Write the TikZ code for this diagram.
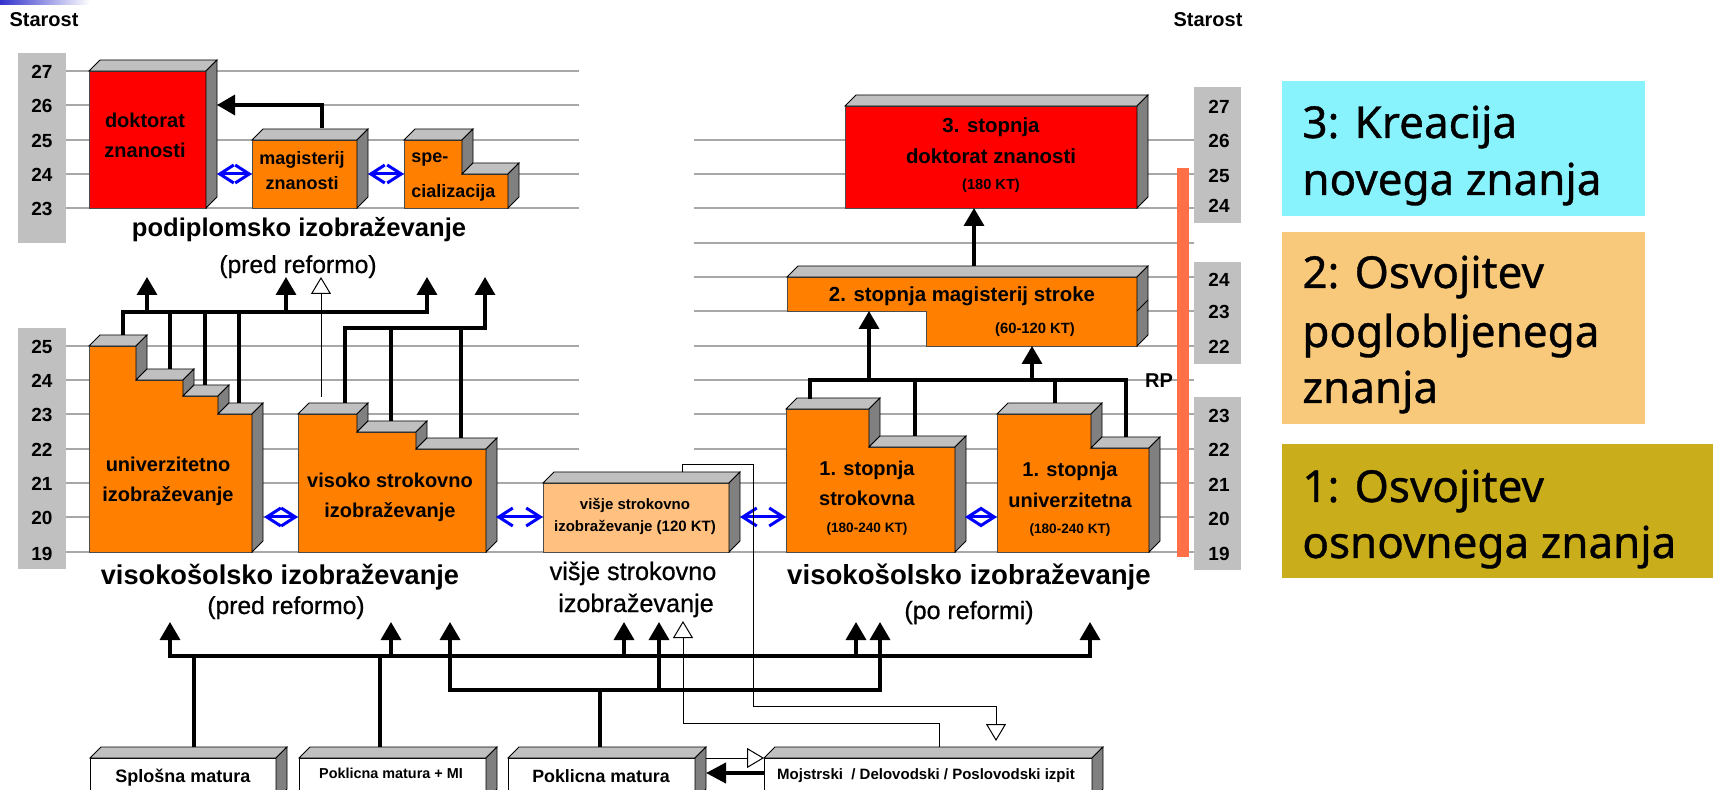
\documentclass[tikz,border=0pt]{standalone}
\usepackage{fontspec}
\setmainfont{Liberation Sans}
\newfontfamily\legfont{Noto Sans}[FakeBold=0.8]
\newfontfamily\medfont{Liberation Sans}[FakeBold=0.7]
\usetikzlibrary{arrows.meta}
\definecolor{orng}{HTML}{FF8000}
\definecolor{redc}{HTML}{FF0000}
\definecolor{lorng}{HTML}{FFC080}
\definecolor{topg}{HTML}{C0C0C0}
\definecolor{sideg}{HTML}{808080}
\definecolor{scaleg}{HTML}{C0C0C0}
\definecolor{gridg}{HTML}{A8A8A8}
\definecolor{rpc}{HTML}{FF7048}
\definecolor{legc}{HTML}{89F3FD}
\definecolor{lego}{HTML}{F8C97A}
\definecolor{legy}{HTML}{C9AD1B}
\definecolor{gradb}{HTML}{3333CC}
\definecolor{arrb}{HTML}{0000FF}
\newcommand\lbl[6][]{\node[anchor=base,inner sep=0pt,font=\bfseries,#1] (#2) at (#3,#4) {\fontsize{#5}{#5}\selectfont #6};}
\def\dd{11}
\newcommand\topface[3]{\filldraw[topf] (#1,#3) -- ++(\dd,-\dd) -- ({#2+\dd},{#3-\dd}) -- (#2,#3) -- cycle;}
\newcommand\rside[3]{\filldraw[sidef] (#1,#2) -- ++(\dd,-\dd) -- ({#1+\dd},{#3-\dd}) -- (#1,#3) -- cycle;}
\tikzset{
  topf/.style={fill=topg,draw=black,line width=0.4pt},
  sidef/.style={fill=sideg,draw=black,line width=0.4pt},
  frontf/.style={draw=black!70,line width=0.35pt},
  gline/.style={draw=gridg,line width=0.6pt},
  conn/.style={draw=black,line width=1.7pt},
  arr/.style={conn,-{Triangle[length=9pt,width=10pt]}},
  arrtwo/.style={conn,{Triangle[length=9pt,width=10pt]}-{Triangle[length=9pt,width=10pt]}},
  thinl/.style={draw=black,line width=0.5pt},
  warr/.style={thinl,-{Triangle[length=8.5pt,width=10pt,fill=white]}},
  barr/.style={draw=arrb,line width=1.5pt,{Straight Barb[length=7pt,width=9pt]}-{Straight Barb[length=7pt,width=9pt]}},
  scl/.style={fill=scaleg},
  legtext/.style={anchor=base west,inner sep=0pt,font=\legfont\fontsize{22}{22}\selectfont}
}
\begin{document}
\begin{tikzpicture}[x=0.5pt,y=-0.5pt]
\useasboundingbox (0,0) rectangle (1713,790);
\clip (0,0) rectangle (1713,790);
\fill[white] (0,0) rectangle (1713,790);
\shade[left color=gradb,right color=white] (0,0) rectangle (90,5);

% grid lines
\foreach \y in {71,105,140,174,208,346,380,414,449} \draw[gline] (66,\y) -- (579,\y);
\foreach \y in {483,517,552} \draw[gline] (66,\y) -- (1194,\y);
\foreach \y in {140,174,208,243,277,311,346,380,414,449} \draw[gline] (694,\y) -- (1194,\y);

% age scales
\fill[scl] (18,53) rectangle (66,243);
\fill[scl] (18,328) rectangle (66,569);
\fill[scl] (1194,87) rectangle (1241,223);
\fill[scl] (1194,262) rectangle (1241,364);
\fill[scl] (1194,397) rectangle (1241,570);
\fill[rpc] (1177,168) rectangle (1189,557);

% legend
\fill[legc] (1282,81) rectangle (1645,216);
\fill[lego] (1282,232) rectangle (1645,424);
\fill[legy] (1282,444) rectangle (1713,578);
\node[legtext] (lg1) at (1302,138) {3: Kreacija};
\node[legtext] (lg2) at (1302,195) {novega znanja};
\node[legtext] (lg3) at (1302,288) {2: Osvojitev};
\node[legtext] (lg4) at (1302,347) {poglobljenega};
\node[legtext] (lg5) at (1302,403) {znanja};
\node[legtext] (lg6) at (1302,502) {1: Osvojitev};
\node[legtext] (lg7) at (1302,558) {osnovnega znanja};

% boxes: doktorat
\filldraw[frontf,fill=redc] (89,71) rectangle (206,208);
\topface{89}{206}{71}\rside{206}{71}{208}
% magisterij
\filldraw[frontf,fill=orng] (252,140) rectangle (357,208);
\topface{252}{357}{140}\rside{357}{140}{208}
% specializacija
\filldraw[frontf,fill=orng] (404,208) -- (404,140) -- (462,140) -- (462,174) -- (508,174) -- (508,208) -- cycle;
\topface{404}{462}{140}\rside{462}{140}{174}\topface{462}{508}{174}\rside{508}{174}{208}
% univerzitetno
\filldraw[frontf,fill=orng] (89,552) -- (89,346) -- (136,346) -- (136,380) -- (183,380) -- (183,396) -- (218,396) -- (218,414) -- (252,414) -- (252,552) -- cycle;
\topface{89}{136}{346}\rside{136}{346}{380}\topface{136}{183}{380}\rside{183}{380}{396}
\topface{183}{218}{396}\rside{218}{396}{414}\topface{218}{252}{414}\rside{252}{414}{552}
% visoko strokovno
\filldraw[frontf,fill=orng] (298,552) -- (298,414) -- (357,414) -- (357,432) -- (416,432) -- (416,449) -- (486,449) -- (486,552) -- cycle;
\topface{298}{357}{414}\rside{357}{414}{432}\topface{357}{416}{432}\rside{416}{432}{449}
\topface{416}{486}{449}\rside{486}{449}{552}
% visje
\filldraw[frontf,fill=lorng] (543,483) rectangle (729,552);
\topface{543}{729}{483}\rside{729}{483}{552}
% 3. stopnja
\filldraw[frontf,fill=redc] (845,106) rectangle (1137,208);
\topface{845}{1137}{106}\rside{1137}{106}{208}
% 2. stopnja
\filldraw[frontf,fill=orng] (787,277) -- (1137,277) -- (1137,346) -- (926,346) -- (926,311) -- (787,311) -- cycle;
\topface{787}{1137}{277}\rside{1137}{277}{346}
\draw[line width=0.4pt] (1137,311) -- ++(\dd,-\dd);
% 1. stopnja strokovna
\filldraw[frontf,fill=orng] (786,552) -- (786,409) -- (869,409) -- (869,447) -- (955,447) -- (955,552) -- cycle;
\topface{786}{869}{409}\rside{869}{409}{447}\topface{869}{955}{447}\rside{955}{447}{552}
% 1. stopnja univerzitetna
\filldraw[frontf,fill=orng] (997,552) -- (997,414) -- (1091,414) -- (1091,448) -- (1149,448) -- (1149,552) -- cycle;
\topface{997}{1091}{414}\rside{1091}{414}{448}\topface{1091}{1149}{448}\rside{1149}{448}{552}
% bottom boxes
\filldraw[draw=black,line width=0.5pt,fill=white] (90,758) rectangle (276,800);
\topface{90}{276}{758}\rside{276}{758}{800}
\filldraw[draw=black,line width=0.5pt,fill=white] (299,758) rectangle (486,800);
\topface{299}{486}{758}\rside{486}{758}{800}
\filldraw[draw=black,line width=0.5pt,fill=white] (508,758) rectangle (695,800);
\topface{508}{695}{758}\rside{695}{758}{800}
\filldraw[draw=black,line width=0.5pt,fill=white] (764,758) rectangle (1092,800);
\topface{764}{1092}{758}\rside{1092}{758}{800}

% connectors top-left
\coordinate (magT) at (322,128);
\coordinate (dokR) at (217,105);
\draw[arr] (magT) |- (dokR);
\coordinate (b1a) at (217,174); \coordinate (b1b) at (252,174);
\coordinate (b2a) at (368,174); \coordinate (b2b) at (404,174);
\coordinate (b3a) at (264,517); \coordinate (b3b) at (298,517);
\coordinate (b4a) at (496,517); \coordinate (b4b) at (543,517);
\coordinate (b5a) at (740,517); \coordinate (b5b) at (786,517);
\coordinate (b6a) at (965,517); \coordinate (b6b) at (997,517);
\draw[barr] (b1a) -- (b1b);
\draw[barr] (b2a) -- (b2b);
\draw[barr] (b3a) -- (b3b);
\draw[barr] (b4a) -- (b4b);
\draw[barr] (b5a) -- (b5b);
\draw[barr] (b6a) -- (b6b);

% bracket 1
\coordinate (u1) at (123,335); \coordinate (u2) at (170,369);
\coordinate (u3) at (205,385); \coordinate (u4) at (239,403);
\coordinate (k1) at (0,312);
\coordinate (pA) at (147,277); \coordinate (pB) at (286,277); \coordinate (pC) at (427,277);
\draw[arr] (u1) |- (pC |- k1) -- (pC);
\draw[conn] (u2) -- (u2 |- k1);
\draw[conn] (u3) -- (u3 |- k1);
\draw[conn] (u4) -- (u4 |- k1);
\draw[arr] (pA |- k1) -- (pA);
\draw[arr] (pB |- k1) -- (pB);
% bracket 2
\coordinate (v1) at (345,403); \coordinate (v2) at (391,421); \coordinate (v3) at (461,438);
\coordinate (k2) at (0,328); \coordinate (pD) at (485,277);
\draw[arr] (v1) |- (pD |- k2) -- (pD);
\draw[conn] (v2) -- (v2 |- k2);
\draw[conn] (v3) -- (v3 |- k2);
\coordinate (vsW) at (321,397); \coordinate (pW) at (321,277);
\draw[warr] (vsW) -- (pW);

% right side
\coordinate (s2T) at (974,266); \coordinate (s3B) at (974,208);
\draw[arr] (s2T) -- (s3B);
\coordinate (r1) at (810,399); \coordinate (r2) at (915,436);
\coordinate (r3) at (1055,403); \coordinate (r4) at (1126,437);
\coordinate (k3) at (0,380);
\draw[conn] (r1) |- (r4 |- k3) -- (r4);
\draw[conn] (r2) -- (r2 |- k3);
\draw[conn] (r3) -- (r3 |- k3);
\coordinate (s2a) at (869,311); \coordinate (s2b) at (1032,346);
\draw[arr] (s2a |- k3) -- (s2a);
\draw[arr] (s2b |- k3) -- (s2b);

% bottom buses
\coordinate (q1) at (170,622); \coordinate (q2) at (391,622); \coordinate (q3) at (624,622);
\coordinate (q4) at (856,622); \coordinate (q5) at (1090,622);
\coordinate (q6) at (450,622); \coordinate (q7) at (659,622); \coordinate (q8) at (880,622);
\coordinate (k4) at (0,656); \coordinate (k5) at (0,690);
\draw[arrtwo] (q1) -- (q1 |- k4) -- (q5 |- k4) -- (q5);
\draw[arr] (q2 |- k4) -- (q2);
\draw[arr] (q3 |- k4) -- (q3);
\draw[arr] (q4 |- k4) -- (q4);
\draw[arrtwo] (q6) -- (q6 |- k5) -- (q8 |- k5) -- (q8);
\draw[arr] (q7 |- k5) -- (q7);
\coordinate (splT) at (194,747); \coordinate (pmiT) at (380,747); \coordinate (pmT) at (600,747);
\draw[conn] (splT) -- (splT |- k4);
\draw[conn] (pmiT) -- (pmiT |- k4);
\draw[conn] (pmT) -- (pmT |- k5);

% thin connectors
\coordinate (vjT) at (682,472); \coordinate (mojW) at (996,741);
\draw[warr] (vjT) -- (682,465) -- (753,465) -- (753,706) -- (996,706) -- (mojW);
\coordinate (mojT) at (939,747); \coordinate (vlW) at (683,621);
\draw[warr] (mojT) -- (939,723) -- (683,723) -- (vlW);
\coordinate (pmR) at (706,758); \coordinate (mojL) at (764,758);
\draw[warr] (pmR) -- (mojL);
\coordinate (mojL2) at (764,773); \coordinate (pmR2) at (706,773);
\draw[draw=black,line width=2pt,-{Triangle[length=10pt,width=10pt]}] (mojL2) -- (pmR2);

% texts
\lbl{st1}{44}{27}{10}{Starost}
\lbl{st2}{1208}{27}{10}{Starost}
\foreach \n/\y in {27/71,26/105,25/140,24/174,23/208} {\lbl{lt\n}{42}{\y+8}{9.5}{\n}}
\foreach \n/\y in {25/346,24/380,23/414,22/449,21/483,20/517,19/552} {\lbl{lb\n}{42}{\y+8}{9.5}{\n}}
\foreach \n/\y in {27/107,26/141,25/176,24/206} {\lbl{rt\n}{1219}{\y+7}{9.5}{\n}}
\foreach \n/\y in {24/280,23/312,22/347} {\lbl{rm\n}{1219}{\y+7}{9.5}{\n}}
\foreach \n/\y in {23/416,22/450,21/485,20/519,19/553} {\lbl{rb\n}{1219}{\y+7}{9.5}{\n}}

\lbl{tdok1}{145}{128}{10}{doktorat}
\lbl{tdok2}{145}{158}{10}{znanosti}
\lbl{tmag1}{302}{165}{9}{magisterij}
\lbl{tmag2}{302}{190}{9}{znanosti}
\lbl[anchor=base west]{tspe1}{411}{163}{9}{spe-}
\lbl[anchor=base west]{tspe2}{411}{198}{9}{cializacija}
\lbl{tpod1}{299}{237}{12.8}{podiplomsko izobraževanje}
\lbl[font=\medfont]{tpod2}{298}{273}{12.3}{(pred reformo)}
\lbl{tuni1}{168}{472}{10}{univerzitetno}
\lbl{tuni2}{168}{502}{10}{izobraževanje}
\lbl{tvs1}{390}{488}{10}{visoko strokovno}
\lbl{tvs2}{390}{518}{10}{izobraževanje}
\lbl{tvj1}{635}{510}{7.5}{višje strokovno}
\lbl{tvj2}{635}{532}{7.5}{izobraževanje (120 KT)}
\lbl{tvis1}{280}{585}{13.6}{visokošolsko izobraževanje}
\lbl[font=\medfont]{tvis2}{286}{614}{12.3}{(pred reformo)}
\lbl[font=\medfont]{tvss1}{633}{580}{12.6}{višje strokovno}
\lbl[font=\medfont]{tvss2}{636}{612}{12.6}{izobraževanje}
\lbl{tvr1}{969}{585}{13.8}{visokošolsko izobraževanje}
\lbl[font=\medfont]{tvr2}{969}{619}{12.5}{(po reformi)}
\lbl{ts3a}{991}{133}{10.2}{3. stopnja}
\lbl{ts3b}{991}{164}{10.2}{doktorat znanosti}
\lbl{ts3c}{991}{190}{7.3}{(180 KT)}
\lbl{ts2a}{962}{302}{10.2}{2. stopnja magisterij stroke}
\lbl{ts2b}{1035}{334}{7.4}{(60-120 KT)}
\lbl{ts1a}{867}{476}{10}{1. stopnja}
\lbl{ts1b}{867}{506}{10}{strokovna}
\lbl{ts1c}{867}{533}{6.8}{(180-240 KT)}
\lbl{tu1a}{1070}{477}{10}{1. stopnja}
\lbl{tu1b}{1070}{508}{10}{univerzitetna}
\lbl{tu1c}{1070}{534}{6.8}{(180-240 KT)}
\lbl{trp}{1159}{388}{10}{RP}
\lbl{tspl}{183}{782}{9}{Splošna matura}
\lbl{tpmi}{391}{778}{7.2}{Poklicna matura + MI}
\lbl{tpm}{601}{782}{8.9}{Poklicna matura}
\lbl{tmoj}{926}{779}{7.5}{Mojstrski\ \ / Delovodski / Poslovodski izpit}
\end{tikzpicture}
\end{document}
